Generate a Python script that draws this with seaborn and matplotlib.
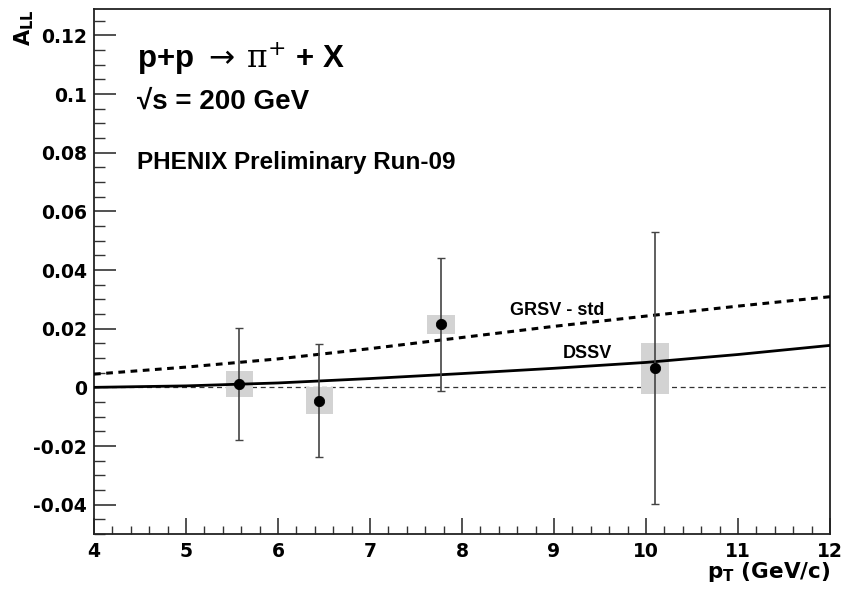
import matplotlib
matplotlib.use("Agg")
import matplotlib.pyplot as plt
import seaborn as sns
import pandas as pd
from matplotlib.ticker import MultipleLocator

# ---- data ----
pt = [5.58, 6.45, 7.77, 10.10]
a_ll = [0.0012, -0.0045, 0.0215, 0.0065]
stat_err = [0.0190, 0.0193, 0.0226, 0.0463]
sys_err = [0.0044, 0.0046, 0.0032, 0.0086]

pt_curve = [4, 5, 6, 7, 8, 9, 10, 11, 12]
grsv_std = [0.0045, 0.0069, 0.0097, 0.0132, 0.0170, 0.0208, 0.0243, 0.0277, 0.0309]
dssv = [0.0, 0.0005, 0.0015, 0.0030, 0.0047, 0.0065, 0.0085, 0.0112, 0.0143]

xticks = [4, 5, 6, 7, 8, 9, 10, 11, 12]
yticks = [-0.04, -0.02, 0, 0.02, 0.04, 0.06, 0.08, 0.1, 0.12]
ytick_labels = ["-0.04", "-0.02", "0", "0.02", "0.04", "0.06", "0.08", "0.1", "0.12"]

sns.set_theme(style="white")
plt.rcParams['font.family'] = ['Liberation Sans', 'DejaVu Sans']
plt.rcParams['font.weight'] = 'bold'
plt.rcParams['text.color'] = 'black'
plt.rcParams['axes.labelcolor'] = 'black'
plt.rcParams['xtick.labelcolor'] = 'black'
plt.rcParams['ytick.labelcolor'] = 'black'
plt.rcParams['mathtext.fontset'] = 'custom'
plt.rcParams['mathtext.rm'] = 'DejaVu Sans:bold'
plt.rcParams['mathtext.bf'] = 'DejaVu Sans:bold'
plt.rcParams['mathtext.it'] = 'DejaVu Sans:bold'
plt.rcParams['mathtext.sf'] = 'DejaVu Serif:normal'
plt.rcParams['mathtext.tt'] = 'DejaVu Sans:normal'

AX_FONT = ['DejaVu Sans']
TXT_FONT = ['Liberation Sans', 'DejaVu Sans']

fig = plt.figure(figsize=(8.43, 5.90), dpi=100)
ax = fig.add_axes([94/843, 56/590, (830-94)/843, (534-9)/590])

df_pts = pd.DataFrame({"pt": pt, "all": a_ll})
df_curve = pd.DataFrame({"pt": pt_curve, "grsv": grsv_std, "dssv": dssv})

# zero line
ax.axhline(0, color="#333333", lw=0.9, ls=(0, (4, 3)), zorder=1)

# systematic boxes
ax.bar(pt, [2*s for s in sys_err], bottom=[a - s for a, s in zip(a_ll, sys_err)],
       width=0.30, color="#d3d3d3", edgecolor="none", zorder=2)

# theory curves
sns.lineplot(data=df_curve, x="pt", y="grsv", ax=ax, color="black", lw=2.2,
             linestyle=(0, (2.2, 1.8)), zorder=3)
sns.lineplot(data=df_curve, x="pt", y="dssv", ax=ax, color="black", lw=2.0, zorder=3)

# stat error bars
ax.errorbar(pt, a_ll, yerr=stat_err, fmt="none", ecolor="#444444", elinewidth=1.2,
            capsize=3, capthick=1.0, zorder=4)
sns.scatterplot(data=df_pts, x="pt", y="all", ax=ax, color="black", s=55,
                edgecolor="black", zorder=5)

ax.set_xlim(4, 12)
ax.set_ylim(-0.05, 0.129)
ax.set_xticks(xticks)
ax.set_xticklabels([str(v) for v in xticks])
ax.set_yticks(yticks)
ax.set_yticklabels(ytick_labels)
ax.xaxis.set_minor_locator(MultipleLocator(0.2))
ax.yaxis.set_minor_locator(MultipleLocator(0.005))

ax.tick_params(axis='y', which='major', direction='in', length=16, width=1.2,
               labelsize=13.5, pad=5, color='#333333', left=True, labelcolor='black')
ax.tick_params(axis='y', which='minor', direction='in', length=8, width=1.0,
               left=True, color='#333333')
ax.tick_params(axis='x', which='major', direction='in', length=11.5, width=1.2,
               labelsize=13.5, pad=6, color='#333333', bottom=True, labelcolor='black')
ax.tick_params(axis='x', which='minor', direction='in', length=5.8, width=1.0,
               bottom=True, color='#333333')
ax.tick_params(top=False, right=False)
for lab in ax.get_xticklabels() + ax.get_yticklabels():
    lab.set_fontweight('bold')
    lab.set_family(AX_FONT)

for sp in ax.spines.values():
    sp.set_color('#222222')
    sp.set_linewidth(1.3)

ax.set_xlabel(r"p$_{\mathrm{T}}$ (GeV/c)", fontsize=15.5, fontweight='bold', loc='right',
              labelpad=-1, family=AX_FONT, color='black')
ax.set_ylabel(r"A$_{\mathrm{LL}}$", fontsize=15, fontweight='bold', loc='top', labelpad=-2,
              family=AX_FONT, color='black')

# annotations
ax.text(0.058, 0.905, r"p+p $\mathtt{\rightarrow}\,\mathsf{\pi}^{\mathtt{+}}$ + X",
        transform=ax.transAxes, fontsize=22.5, fontweight='bold', family=TXT_FONT,
        va='center', ha='left', color='black')
ax.text(0.058, 0.823, "√s = 200 GeV", transform=ax.transAxes,
        fontsize=20, fontweight='bold', family=TXT_FONT, va='center', ha='left',
        color='black')
ax.text(0.058, 0.707, "PHENIX Preliminary Run-09", transform=ax.transAxes,
        fontsize=17.5, fontweight='bold', family=TXT_FONT, va='center', ha='left',
        color='black')
ax.text(8.52, 0.0262, "GRSV - std", fontsize=13, fontweight='bold', family=TXT_FONT,
        va='center', ha='left', color='black')
ax.text(9.1, 0.0117, "DSSV", fontsize=13, fontweight='bold', family=TXT_FONT,
        va='center', ha='left', color='black')

fig.savefig("out.png", dpi=100, facecolor="white")
